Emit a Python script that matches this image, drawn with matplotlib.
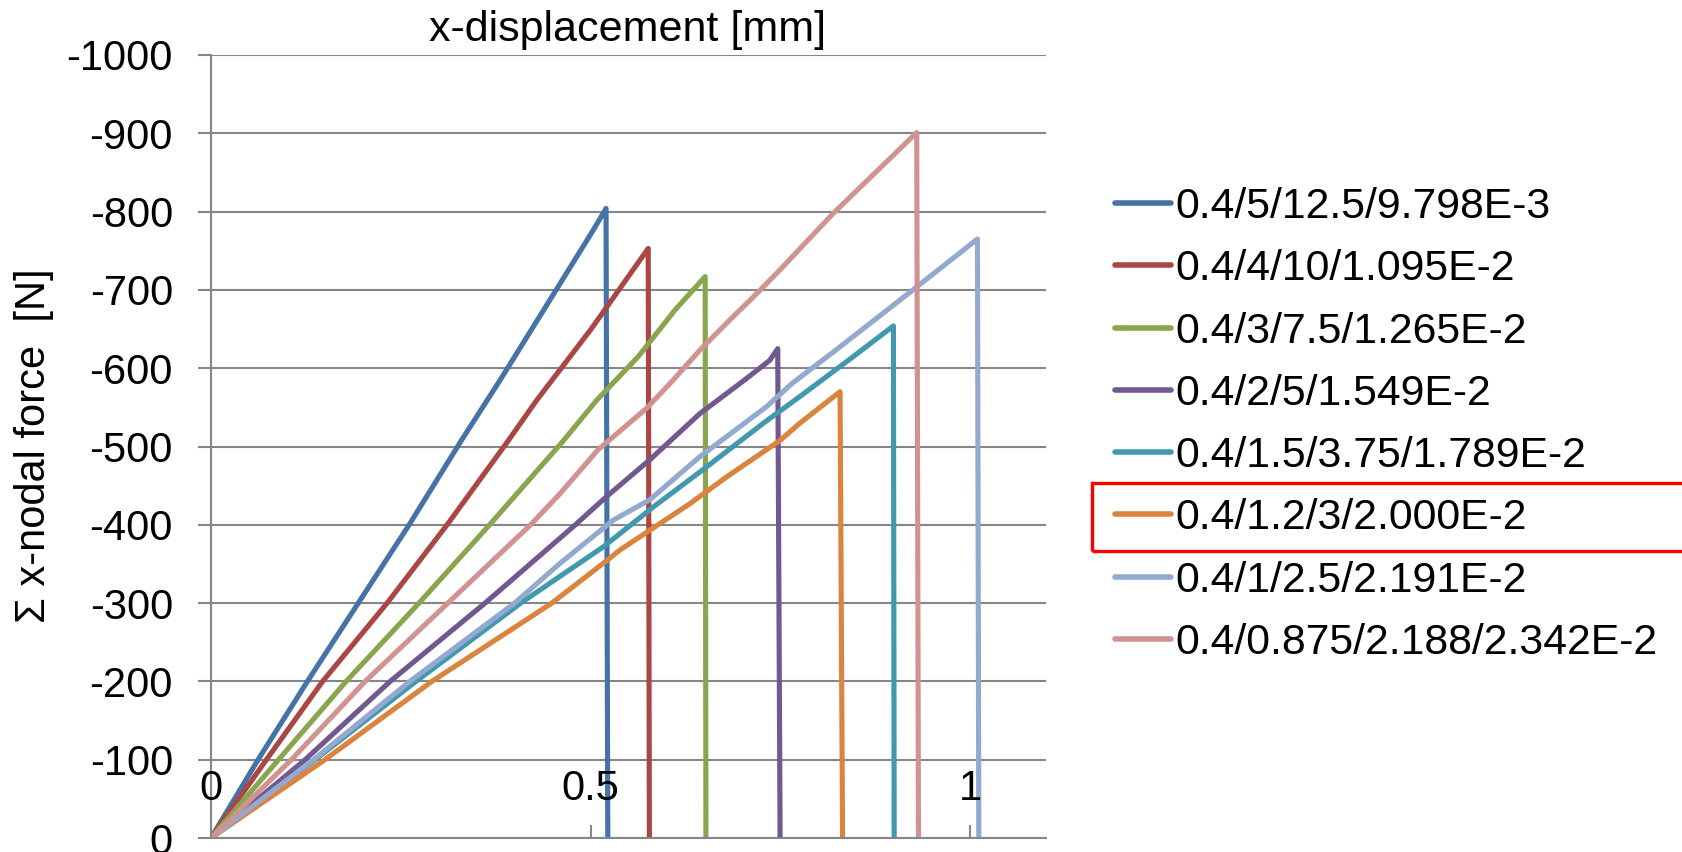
import matplotlib
matplotlib.use("Agg")
import matplotlib.pyplot as plt
from matplotlib.patches import Rectangle

plt.rcParams["font.family"] = ["Liberation Sans", "DejaVu Sans"]

# ---------------------------------------------------------------------------
# Data: x-displacement [mm] vs summed nodal force [N]
# Each curve rises to its peak, then drops straight back to zero.
# ---------------------------------------------------------------------------

labels = [
    "0.4/5/12.5/9.798E-3",
    "0.4/4/10/1.095E-2",
    "0.4/3/7.5/1.265E-2",
    "0.4/2/5/1.549E-2",
    "0.4/1.5/3.75/1.789E-2",
    "0.4/1.2/3/2.000E-2",
    "0.4/1/2.5/2.191E-2",
    "0.4/0.875/2.188/2.342E-2",
]

colors = ["#4572A7", "#AA4643", "#89A54E", "#71588F",
          "#4198AF", "#DB843D", "#93A9CF", "#D19392"]

x_blue = [0, 0.062, 0.127, 0.194, 0.261, 0.330, 0.381, 0.504, 0.5204, 0.5227]
f_blue = [0, -100, -200, -300, -400, -508, -585, -777, -804, 0]

x_red = [0, 0.073, 0.147, 0.232, 0.311, 0.392, 0.429, 0.500, 0.5125, 0.576, 0.5775]
f_red = [0, -100, -200, -300, -400, -508, -559, -649, -666, -753, 0]

x_green = [0, 0.089, 0.178, 0.274, 0.367, 0.463, 0.508, 0.563, 0.611, 0.651, 0.652]
f_green = [0, -100, -200, -300, -400, -506, -559, -615, -674, -717, 0]

x_purple = [0, 0.124, 0.236, 0.361, 0.480, 0.521, 0.578, 0.644, 0.703, 0.736, 0.7466, 0.7497]
f_purple = [0, -100, -200, -300, -400, -436, -483, -542, -585, -610, -625, 0]

x_teal = [0, 0.137, 0.270, 0.408, 0.517, 0.539, 0.583, 0.653, 0.728, 0.776, 0.845, 0.899, 0.900]
f_teal = [0, -100, -200, -300, -372, -389, -423, -474, -530, -564, -614, -654, 0]

x_orange = [0, 0.150, 0.291, 0.449, 0.517, 0.539, 0.578, 0.631, 0.679, 0.750, 0.776, 0.8287, 0.832]
f_orange = [0, -100, -200, -300, -351, -368, -393, -427, -461, -508, -530, -570, 0]

x_lblue = [0, 0.135, 0.262, 0.400, 0.460, 0.530, 0.578, 0.644, 0.732, 0.766, 0.819, 0.930, 1.0097, 1.0115]
f_lblue = [0, -100, -200, -300, -351, -406, -432, -487, -551, -581, -620, -704, -765, 0]

x_pink = [0, 0.106, 0.203, 0.312, 0.421, 0.460, 0.510, 0.574, 0.609, 0.644, 0.688,
          0.7145, 0.745, 0.820, 0.9297, 0.932]
f_pink = [0, -100, -200, -300, -400, -440, -496, -549, -585, -623, -666,
          -691, -721, -798, -901, 0]

xs = [x_blue, x_red, x_green, x_purple, x_teal, x_orange, x_lblue, x_pink]
fs = [f_blue, f_red, f_green, f_purple, f_teal, f_orange, f_lblue, f_pink]

y_ticks = [0, -100, -200, -300, -400, -500, -600, -700, -800, -900, -1000]
x_ticks = [0, 0.5, 1]
x_tick_labels = ["0", "0.5", "1"]

# ---------------------------------------------------------------------------
# Figure
# ---------------------------------------------------------------------------

W, H = 1682, 852
fig = plt.figure(figsize=(W / 100, H / 100), dpi=100)
ax = fig.add_axes([211 / W, 1 - 838 / H, 835 / W, 783 / H])

GRAY = "#868686"
FS = 30

for x, f, c, lab in zip(xs, fs, colors, labels):
    ax.plot(x, f, color=c, linewidth=3.7, label=lab,
            solid_joinstyle="round", solid_capstyle="round")

ax.set_xlim(0, 1.1)
ax.set_ylim(0, -1000)

ax.set_yticks(y_ticks)
ax.set_yticklabels([str(v) for v in y_ticks])
ax.set_xticks(x_ticks)
ax.set_xticklabels([""] * len(x_ticks))

ax.grid(axis="y", color=GRAY, linewidth=1.5)
ax.set_axisbelow(True)
for side in ["top", "right"]:
    ax.spines[side].set_visible(False)
for side in ["left", "bottom"]:
    ax.spines[side].set_color(GRAY)
    ax.spines[side].set_linewidth(1.5)

ax.tick_params(axis="y", direction="out", length=9.4, width=1.5, color=GRAY,
               labelsize=FS, pad=18)
ax.tick_params(axis="x", direction="in", length=9.4, width=1.5, color=GRAY)

# x tick labels sit above the zero line, inside the plot
for xt, lab in zip(x_ticks, x_tick_labels):
    ax.text(xt, 0.0485, lab, transform=ax.get_xaxis_transform(),
            ha="center", va="baseline", fontsize=FS)

fig.text(628 / W, 1 - 30 / H, "x-displacement [mm]", ha="center", va="center",
         fontsize=31)
fig.text(34 / W, 1 - 446 / H, "\u03a3 x-nodal force  [N]", rotation=90,
         ha="center", va="center", fontsize=FS)

leg = fig.legend(loc="center left", bbox_to_anchor=(1115 / W, 1 - 425 / H),
                 frameon=False, fontsize=30.8, borderpad=0, borderaxespad=0,
                 handlelength=1.3, handletextpad=0.1, labelspacing=0.52)
for line in leg.get_lines():
    line.set_linewidth(4.0)

# highlight box around the 1.2/3 entry
fig.patches.append(Rectangle((1092 / W, 1 - 551 / H), 640 / W, 68 / H,
                             transform=fig.transFigure, fill=False,
                             edgecolor="#FF0000", linewidth=2.4))

fig.savefig("out.png", dpi=100)
